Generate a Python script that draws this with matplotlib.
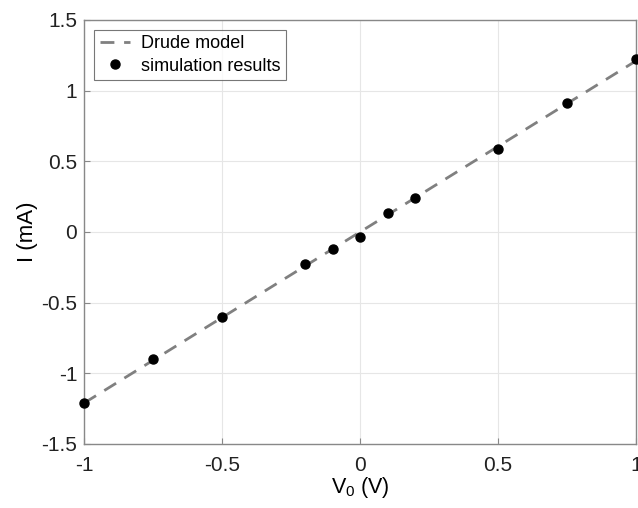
import matplotlib
matplotlib.use("Agg")
import matplotlib.pyplot as plt
import numpy as np

plt.rcParams['font.family'] = ['Liberation Sans', 'DejaVu Sans']

V_sim = [-1, -0.75, -0.5, -0.2, -0.1, 0, 0.1, 0.2, 0.5, 0.75, 1]
I_sim = [-1.21, -0.90, -0.60, -0.226, -0.12, -0.035, 0.134, 0.24, 0.587, 0.913, 1.224]
V_model = [-1, 1]
I_model = [-1.21, 1.21]

fig = plt.figure(figsize=(6.38, 5.08), dpi=100)
ax = fig.add_axes([0.132, 0.126, 0.865, 0.835])
ax.plot(V_model, I_model, '--', color='#808080', lw=2, dashes=(5, 3.5), label='Drude model')
ax.plot(V_sim, I_sim, 'o', color='black', ms=6.5, label='simulation results', clip_on=False, zorder=5)
ax.set_xlim(-1, 1)
ax.set_ylim(-1.5, 1.5)
ax.set_xticks([-1, -0.5, 0, 0.5, 1])
ax.set_xticklabels(['-1', '-0.5', '0', '0.5', '1'])
ax.set_yticks([-1.5, -1, -0.5, 0, 0.5, 1, 1.5])
ax.set_yticklabels(['-1.5', '-1', '-0.5', '0', '0.5', '1', '1.5'])
ax.grid(True, color='#e6e6e6', lw=0.8)
ax.set_axisbelow(True)
for s in ax.spines.values():
    s.set_color('#888888')
    s.set_linewidth(1)
ax.tick_params(direction='in', length=4, color='#888888', labelsize=15, labelcolor='#222222', top=False, right=False)
ax.tick_params(axis='x', pad=9)
ax.tick_params(axis='y', pad=5)
ax.set_xlabel('V$_{\\mathregular{0}}$ (V)', fontsize=15.5, labelpad=0)
ax.set_ylabel('I (mA)', fontsize=16, labelpad=2)
leg = ax.legend(loc='upper left', fontsize=13, frameon=True, fancybox=False, edgecolor='#555555',
                handlelength=1.7, handletextpad=0.6, borderpad=0.3, labelspacing=0.3, borderaxespad=0.55)
leg.get_frame().set_linewidth(0.8)
fig.savefig('out.png', dpi=100)
